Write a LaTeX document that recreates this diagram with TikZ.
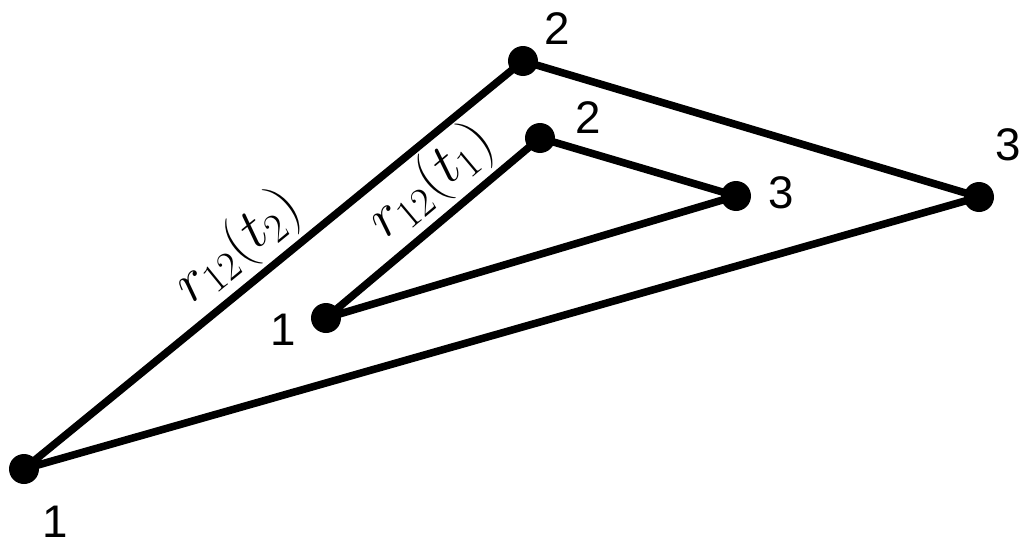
\RequirePackage{fix-cm}
\documentclass[tikz,border=0pt]{standalone}
\usepackage{amsmath}
\usepackage{fontspec}
\setmainfont{Liberation Sans}
\usepackage{tikz}

\begin{document}
\begin{tikzpicture}[x=0.02cm,y=-0.02cm,
      punto/.style={circle,fill=black,inner sep=0pt,minimum size=0.6cm},
      lado/.style={line width=4.3pt,line join=round},
      num/.style={font=\fontsize{26}{30}\selectfont,inner sep=0pt},
      dist/.style={font=\fontsize{33}{40}\selectfont,sloped,above,inner sep=2pt}]
    \useasboundingbox (0,0) rectangle (1019,545);
    % triangulo exterior (t2)
    \node[punto] (o1) at (24,469) {};
    \node[punto] (o2) at (523,61) {};
    \node[punto] (o3) at (979,197) {};
    % triangulo interior (t1)
    \node[punto] (i1) at (326,318) {};
    \node[punto] (i2) at (540,138) {};
    \node[punto] (i3) at (736,196) {};
    \draw[lado] (o1.center) -- node[dist,pos=0.475] {$r_{12}(t_2)$} (o2.center) -- (o3.center) -- cycle;
    \draw[lado] (i1.center) -- node[dist,pos=0.6] {$r_{12}(t_1)$} (i2.center) -- (i3.center) -- cycle;
    % numeros
    \node[num] (no1) at (55,522) {1};
    \node[num] (no2) at (557,29) {2};
    \node[num] (no3) at (1008,145) {3};
    \node[num] (ni1) at (283,330) {1};
    \node[num] (ni2) at (588,118) {2};
    \node[num] (ni3) at (781,193) {3};
  \end{tikzpicture}
\end{document}
